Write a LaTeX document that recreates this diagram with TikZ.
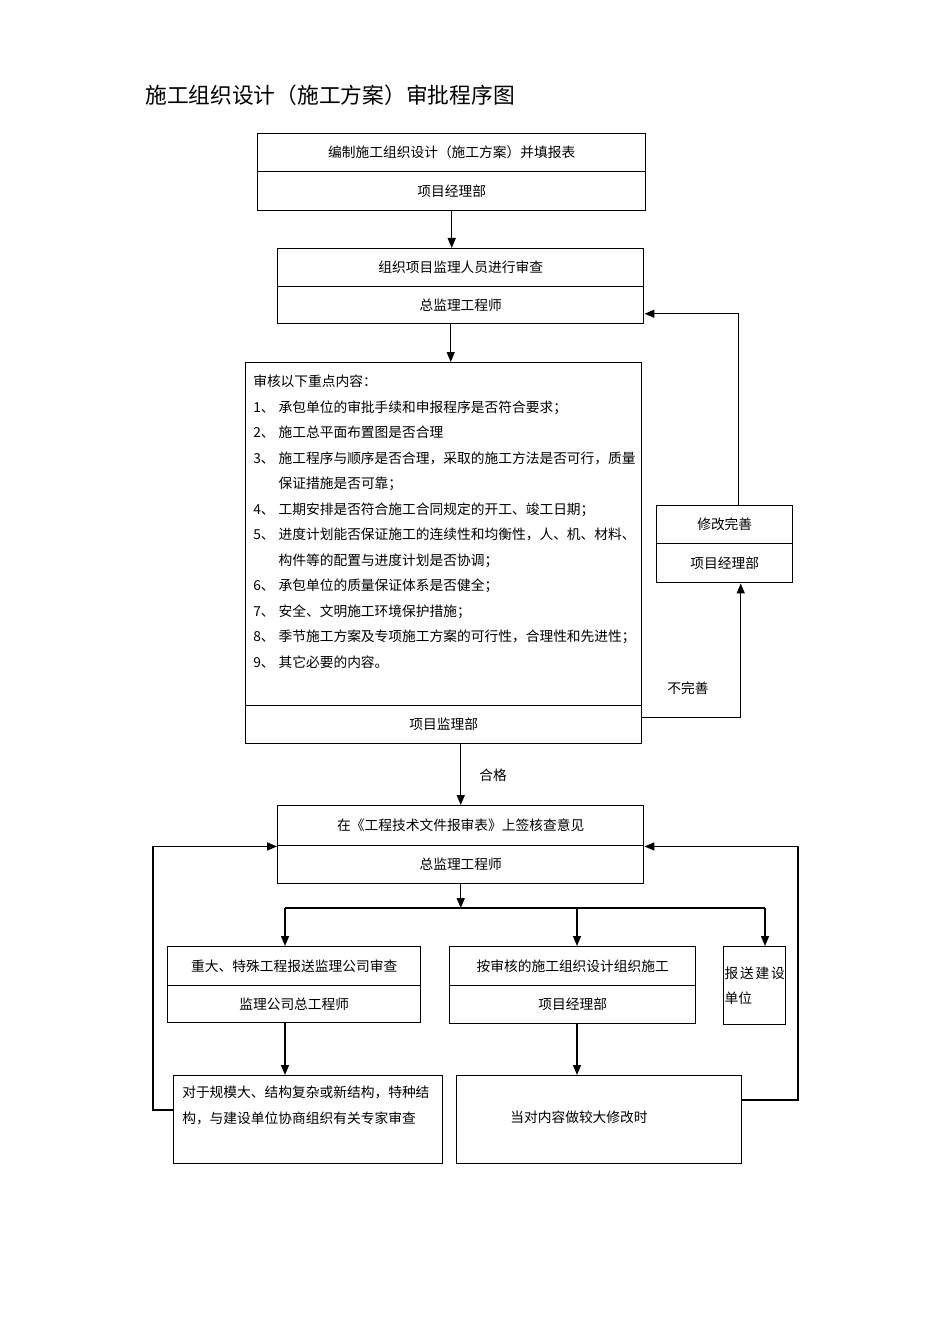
\documentclass[tikz,border=0pt]{standalone}
\usepackage{fontspec}
\setmainfont{Noto Sans CJK SC}
\usetikzlibrary{arrows.meta}
\tikzset{
  cell/.style={draw, line width=1.1pt, inner sep=0pt, anchor=north west, font=\fontsize{10.3pt}{19.1pt}\selectfont},
  txt/.style={inner sep=0pt, font=\fontsize{10.3pt}{19.1pt}\selectfont},
  arr/.style={line width=1.1pt, -{Triangle[length=7.5pt,width=6pt]}},
  lnk/.style={line width=1.1pt},
}
\newcommand{\itemno}[1]{\makebox[19pt][l]{#1}}
\begin{document}
\begin{tikzpicture}[x=0.75pt,y=0.75pt,yscale=-1,xscale=1]
\path[use as bounding box] (0,0) rectangle (950,1344);
% Title
\node[anchor=west, inner sep=0pt, font=\fontsize{16.3pt}{20pt}\selectfont] (title) at (145,95) {施工组织设计（施工方案）审批程序图};
% Box 1
\node[cell, minimum width=291pt, minimum height=28.5pt] (b1t) at (257,133) {编制施工组织设计（施工方案）并填报表};
\node[cell, minimum width=291pt, minimum height=29.25pt] (b1b) at (257,171) {项目经理部};
% Box 2
\node[cell, minimum width=274.5pt, minimum height=28.5pt] (b2t) at (277,248) {组织项目监理人员进行审查};
\node[cell, minimum width=274.5pt, minimum height=27.75pt] (b2b) at (277,286) {总监理工程师};
% Box 3
\node[cell, minimum width=297pt, minimum height=257.25pt] (b3t) at (245,362) {};
\node[cell, minimum width=297pt, minimum height=28.5pt] (b3b) at (245,705) {项目监理部};
\node[txt, anchor=north west, align=left] (b3text) at (253,375) {审核以下重点内容：\\
\itemno{1、}承包单位的审批手续和申报程序是否符合要求；\\
\itemno{2、}施工总平面布置图是否合理\\
\itemno{3、}施工程序与顺序是否合理，采取的施工方法是否可行，质量\\
\itemno{}保证措施是否可靠；\\
\itemno{4、}工期安排是否符合施工合同规定的开工、竣工日期；\\
\itemno{5、}进度计划能否保证施工的连续性和均衡性，人、机、材料、\\
\itemno{}构件等的配置与进度计划是否协调；\\
\itemno{6、}承包单位的质量保证体系是否健全；\\
\itemno{7、}安全、文明施工环境保护措施；\\
\itemno{8、}季节施工方案及专项施工方案的可行性，合理性和先进性；\\
\itemno{9、}其它必要的内容。};
% Box R
\node[cell, minimum width=102pt, minimum height=28.5pt] (bRt) at (656,505) {修改完善};
\node[cell, minimum width=102pt, minimum height=29.25pt] (bRb) at (656,543) {项目经理部};
% Box 4
\node[cell, minimum width=274.5pt, minimum height=30pt] (b4t) at (277,805) {在《工程技术文件报审表》上签核查意见};
\node[cell, minimum width=274.5pt, minimum height=28.5pt] (b4b) at (277,845) {总监理工程师};
% Box 5
\node[cell, minimum width=189.75pt, minimum height=29.25pt] (b5t) at (167,946) {重大、特殊工程报送监理公司审查};
\node[cell, minimum width=189.75pt, minimum height=27.75pt] (b5b) at (167,985) {监理公司总工程师};
% Box 6
\node[cell, minimum width=184.5pt, minimum height=29.25pt] (b6t) at (449,946) {按审核的施工组织设计组织施工};
\node[cell, minimum width=184.5pt, minimum height=28.5pt] (b6b) at (449,985) {项目经理部};
% Box 7
\node[cell, minimum width=46.5pt, minimum height=58.5pt, align=left] (b7) at (723,946) {报\hspace{1.3pt}送\hspace{1.3pt}建\hspace{1.3pt}设\\单位};
% Box 8
\node[cell, minimum width=201.75pt, minimum height=66pt] (b8) at (173,1075) {};
\node[txt, anchor=north west, align=left] (b8text) at (182,1086) {对于规模大、结构复杂或新结构，特种结\\构，与建设单位协商组织有关专家审查};
% Box 9
\node[cell, minimum width=213.75pt, minimum height=66pt] (b9) at (456,1075) {};
\node[txt] (b9text) at (579,1117) {当对内容做较大修改时};

% Upper connectors
\draw[arr] (b1b.south) -- (b1b.south |- b2t.north);
\draw[arr] ([xshift=-7.5pt]b2b.south) -- ([xshift=-7.5pt]b2b.south |- b3t.north);
\draw[arr] (b3b.south -| b4t.north) -- (b4t.north);
\node[txt] (pass) at (493,775) {合格};
\draw[arr] ([yshift=-5.25pt]b3b.east) -| ([xshift=12pt]bRb.south);
\node[txt] (fail) at (688,688) {不完善};
\draw[arr] ([xshift=10.5pt]bRt.north) |- ([yshift=6.4pt]b2b.east);

% Lower connectors
\coordinate (brL) at (285,908);
\coordinate (brM) at (577,908);
\coordinate (brR) at (765,908);
\draw[arr] (b4b.south) -- (b4b.south |- brM);
\draw[lnk] (brL) -- (brR);
\draw[arr] (brL) -- (brL |- b5t.north);
\draw[arr] (brM) -- (brM |- b6t.north);
\draw[arr] (brR) -- (brR |- b7.north);
\draw[arr] (brL |- b5b.south) -- (brL |- b8.north);
\draw[arr] (brM |- b6b.south) -- (brM |- b9.north);
\coordinate (fbL) at (153,1110);
\coordinate (fbR) at (798,1100);
\draw[arr] (fbL -| b8.west) -- (fbL) |- (b4t.south west);
\draw[arr] (fbR -| b9.east) -- (fbR) |- (b4t.south east);
\end{tikzpicture}
\end{document}
